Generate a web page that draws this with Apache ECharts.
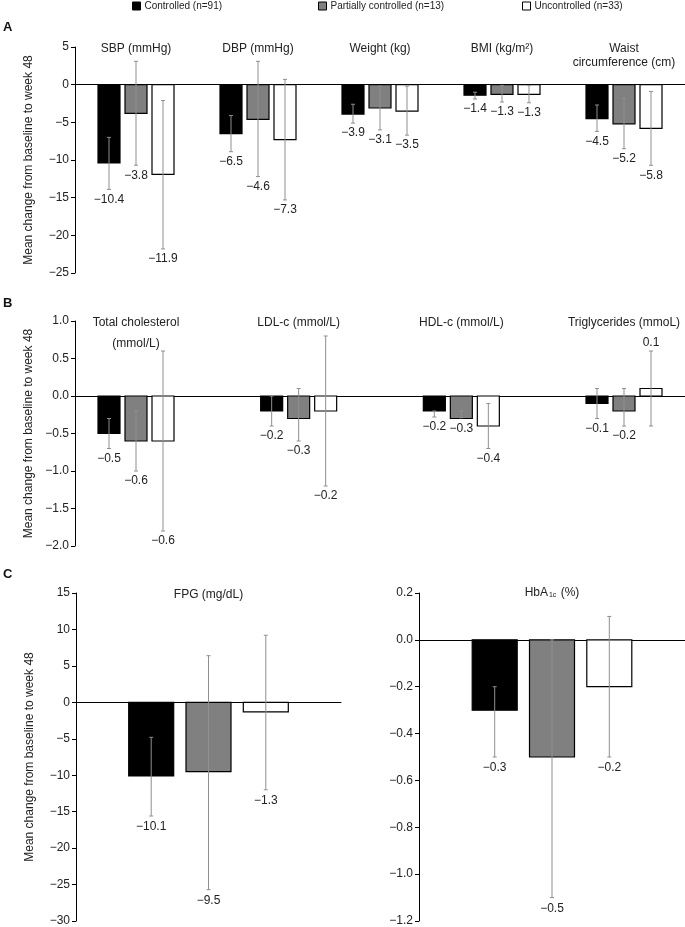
<!DOCTYPE html>
<html>
<head>
<meta charset="utf-8">
<script src="https://cdn.jsdelivr.net/npm/echarts@6/dist/echarts.min.js"></script>
<style>
html,body{margin:0;padding:0;background:#fff;}
#c{width:685px;height:927px;}
</style>
</head>
<body>
<div id="c"></div>
<script>
// ---------- data ----------
const groups = ['Controlled (n=91)', 'Partially controlled (n=13)', 'Uncontrolled (n=33)'];

// Panel A
const catsA = ['SBP (mmHg)', 'DBP (mmHg)', 'Weight (kg)', 'BMI (kg/m\u00B2)', 'Waist\ncircumference (cm)'];
const controlledA   = [-10.4, -6.5, -3.9, -1.4, -4.5];
const partialA      = [-3.8, -4.6, -3.1, -1.3, -5.2];
const uncontrolledA = [-11.9, -7.3, -3.5, -1.3, -5.8];
const controlledAErr   = [[-13.9, -7.0], [-8.9, -4.1], [-5.1, -2.6], [-1.9, -1.0], [-6.2, -2.7]];
const partialAErr      = [[-10.7, 3.1], [-12.2, 3.1], [-6.0, -0.2], [-2.3, -0.1], [-8.5, -1.8]];
const uncontrolledAErr = [[-21.8, -2.1], [-15.3, 0.7], [-6.7, -0.2], [-2.4, -0.1], [-10.7, -0.9]];
const ticksA = {min: -25, max: 5, interval: 5};

// Panel B
const catsB = ['Total cholesterol\n(mmol/L)', 'LDL-c (mmol/L)', 'HDL-c (mmol/L)', 'Triglycerides (mmoL)'];
const controlledB   = [-0.5, -0.2, -0.2, -0.1];
const partialB      = [-0.6, -0.3, -0.3, -0.2];
const uncontrolledB = [-0.6, -0.2, -0.4, 0.1];
const controlledBErr   = [[-0.7, -0.3], [-0.4, 0.0], [-0.28, -0.2], [-0.3, 0.1]];
const partialBErr      = [[-1.0, -0.2], [-0.6, 0.1], [-0.29, -0.2], [-0.4, 0.1]];
const uncontrolledBErr = [[-1.8, 0.6], [-1.2, 0.8], [-0.7, -0.1], [-0.4, 0.6]];
const ticksB = {min: -2, max: 1, interval: 0.5};

// Panel C (left)
const catsC1 = ['FPG (mg/dL)'];
const controlledC1   = [-10.1];
const partialC1      = [-9.5];
const uncontrolledC1 = [-1.3];
const controlledC1Err   = [[-15.6, -4.8]];
const partialC1Err      = [[-25.7, 6.4]];
const uncontrolledC1Err = [[-12.0, 9.2]];
const ticksC1 = {min: -30, max: 15, interval: 5};

// Panel C (right)
const catsC2 = ['{n|HbA}{s|1c}{n| (%)}'];
const controlledC2   = [-0.3];
const partialC2      = [-0.5];
const uncontrolledC2 = [-0.2];
const controlledC2Err   = [[-0.5, -0.2]];
const partialC2Err      = [[-1.1, 0.0]];
const uncontrolledC2Err = [[-0.5, 0.1]];
const ticksC2 = {min: -1.2, max: 0.2, interval: 0.2};

const yTitle = 'Mean change from baseline to week 48';
const panelLetters = ['A', 'B', 'C'];

// ---------- styling / layout ----------
const FF = "'Liberation Sans', Arial, Helvetica, sans-serif";
const groupColors = ['#000000', '#808080', '#ffffff'];
const TXT = '#222';
const WHISK = '#8f8f8f';

function minus(s) { return s.replace('-', '\u2212'); }
function fmt1(v) { return minus((Math.round(v * 10) / 10).toFixed(1)); }
function fmtInt(v) { return minus(String(Math.round(v))); }

const panels = [
  {cats: catsA, vals: [controlledA, partialA, uncontrolledA], errs: [controlledAErr, partialAErr, uncontrolledAErr],
   ticks: ticksA, tickFmt: fmtInt,
   grid: {left: 75, width: 610, top: 47, height: 226}, xMin: -0.5, xMax: 4.5,
   barW: 22, pitch: 27, labelGap: 4, titleLH: 14, showName: true},
  {cats: catsB, vals: [controlledB, partialB, uncontrolledB], errs: [controlledBErr, partialBErr, uncontrolledBErr],
   ticks: ticksB, tickFmt: fmt1,
   grid: {left: 75, width: 610, top: 321, height: 225}, xMin: -0.375, xMax: 3.375,
   barW: 22, pitch: 27, labelGap: 4, titleLH: 21, showName: true},
  {cats: catsC1, vals: [controlledC1, partialC1, uncontrolledC1], errs: [controlledC1Err, partialC1Err, uncontrolledC1Err],
   ticks: ticksC1, tickFmt: fmtInt,
   grid: {left: 76, width: 265, top: 593, height: 329.5}, xMin: -0.5, xMax: 0.5,
   barW: 45, pitch: 57.3, labelGap: 5, titleLH: 14, showName: true},
  {cats: catsC2, vals: [controlledC2, partialC2, uncontrolledC2], errs: [controlledC2Err, partialC2Err, uncontrolledC2Err],
   ticks: ticksC2, tickFmt: fmt1,
   grid: {left: 419, width: 266, top: 593, height: 329.5}, xMin: -0.5, xMax: 0.5,
   barW: 45, pitch: 57.3, labelGap: 5, titleLH: 14, showName: false, rich: true}
];

function makeRender(p, g) {
  return function (params, api) {
    const x = api.value(0), v = api.value(1), lo = api.value(2), hi = api.value(3);
    const base = api.coord([x, 0]);
    const pv = api.coord([x, v]);
    const cx = base[0] + (g - 1) * p.pitch;
    const yLo = api.coord([x, lo])[1];
    const yHi = api.coord([x, hi])[1];
    const cap = 2;
    const children = [];
    children.push({
      type: 'rect',
      shape: {x: cx - p.barW / 2, y: Math.min(base[1], pv[1]), width: p.barW, height: Math.abs(pv[1] - base[1])},
      style: {fill: groupColors[g], stroke: '#000', lineWidth: 1.2}
    });
    children.push({type: 'line', shape: {x1: cx, y1: yHi, x2: cx, y2: yLo}, style: {stroke: WHISK, lineWidth: 1}});
    children.push({type: 'line', shape: {x1: cx - cap, y1: yHi, x2: cx + cap, y2: yHi}, style: {stroke: WHISK, lineWidth: 1}});
    children.push({type: 'line', shape: {x1: cx - cap, y1: yLo, x2: cx + cap, y2: yLo}, style: {stroke: WHISK, lineWidth: 1}});
    const neg = v < 0;
    const ly = neg ? Math.max(yLo, pv[1]) + p.labelGap : Math.min(yHi, pv[1]) - p.labelGap + 2;
    children.push({
      type: 'text', x: cx, y: ly,
      style: {text: fmt1(v), fontSize: 12, fontFamily: FF, fill: TXT,
              textAlign: 'center', align: 'center',
              textVerticalAlign: neg ? 'top' : 'bottom', verticalAlign: neg ? 'top' : 'bottom'}
    });
    if (g === 1) {
      const topY = api.coord([x, p.ticks.max])[1];
      const title = p.cats[params.dataIndex];
      const st = {text: title, fontSize: 12, fontFamily: FF, fill: TXT,
                  textAlign: 'center', align: 'center',
                  textVerticalAlign: 'top', verticalAlign: 'top', lineHeight: p.titleLH};
      if (p.rich) {
        st.rich = {
          n: {fontSize: 12, fontFamily: FF, fill: TXT, lineHeight: 16, verticalAlign: 'bottom'},
          s: {fontSize: 7, fontFamily: FF, fill: TXT, lineHeight: 16, verticalAlign: 'bottom', padding: [4, 1, 0, 1]}
        };
        st.lineHeight = 16;
      }
      children.push({type: 'text', x: base[0], y: topY + 2 - (p.rich ? 12 : p.titleLH / 2), style: st});
    }
    return {type: 'group', children: children};
  };
}

const grids = [], xAxes = [], yAxes = [], series = [];
panels.forEach(function (p, pi) {
  grids.push(p.grid);
  xAxes.push({
    type: 'value', gridIndex: pi, min: p.xMin, max: p.xMax,
    axisLine: {show: true, onZero: true, lineStyle: {color: '#000', width: 1}},
    axisTick: {show: false}, axisLabel: {show: false}, splitLine: {show: false}
  });
  yAxes.push({
    type: 'value', gridIndex: pi, min: p.ticks.min, max: p.ticks.max, interval: p.ticks.interval,
    name: p.showName ? yTitle : '', nameLocation: 'middle', nameGap: 40, nameRotate: 90,
    nameTextStyle: {fontSize: 12, color: TXT, fontFamily: FF},
    axisLine: {show: true, onZero: false, lineStyle: {color: '#000', width: 1}},
    axisTick: {show: true, length: 4, lineStyle: {color: '#000'}},
    axisLabel: {fontSize: 12, color: TXT, margin: 6, fontFamily: FF, formatter: p.tickFmt},
    splitLine: {show: false}
  });
  for (let g = 0; g < 3; g++) {
    series.push({
      type: 'custom', name: groups[g], xAxisIndex: pi, yAxisIndex: pi,
      coordinateSystem: 'cartesian2d', clip: false, silent: true, z: 3,
      itemStyle: {color: groupColors[g], borderColor: '#000', borderWidth: 1},
      data: p.vals[g].map(function (v, i) { return [i, v, p.errs[g][i][0], p.errs[g][i][1]]; }),
      renderItem: makeRender(p, g)
    });
  }
});

const legendLefts = [132, 318, 522];
const legends = groups.map(function (name, i) {
  return {
    data: [{name: name, icon: 'rect', itemStyle: {color: groupColors[i], borderColor: '#000', borderWidth: 1}}],
    left: legendLefts[i], top: 1, padding: 0, itemWidth: 8, itemHeight: 8, itemGap: 0,
    selectedMode: false,
    textStyle: {fontSize: 10, color: TXT, fontFamily: FF, padding: [0, 0, 0, -1]}
  };
});

const letterY = [28, 304, 575];
const graphics = panelLetters.map(function (t, i) {
  return {type: 'text', left: 3, top: letterY[i] - 7,
          style: {text: t, fontSize: 13, fontWeight: 'bold', fontFamily: FF, fill: '#111'}};
});

const chart = echarts.init(document.getElementById('c'), null, {renderer: 'canvas'});
chart.setOption({
  animation: false,
  backgroundColor: '#fff',
  textStyle: {fontFamily: FF},
  legend: legends,
  graphic: graphics,
  grid: grids,
  xAxis: xAxes,
  yAxis: yAxes,
  series: series
});
</script>
</body>
</html>
